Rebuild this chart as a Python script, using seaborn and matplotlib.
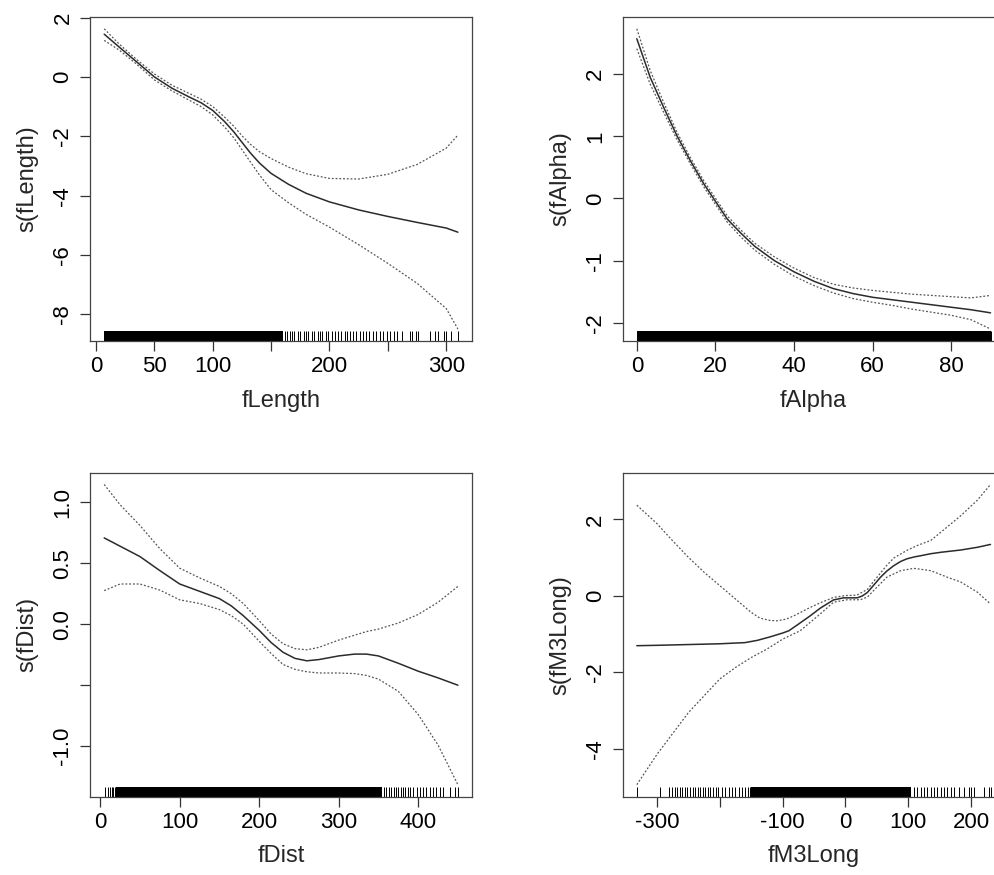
import matplotlib
matplotlib.use("Agg")
import matplotlib.pyplot as plt
import seaborn as sns
import numpy as np

# ---- fLength smooth ----
length_x = [7, 20, 35, 50, 65, 80, 90, 100, 110, 118, 125, 132, 140, 150, 165, 180, 200, 225, 250, 275, 300, 310]
length_fit = [1.44, 1.0, 0.5, 0.0, -0.38, -0.68, -0.87, -1.13, -1.50, -1.85, -2.20, -2.55, -2.90, -3.25, -3.62, -3.92, -4.21, -4.48, -4.70, -4.90, -5.09, -5.23]
length_up = [1.62, 1.10, 0.58, 0.10, -0.28, -0.56, -0.75, -1.0, -1.35, -1.66, -1.98, -2.26, -2.52, -2.75, -3.04, -3.26, -3.42, -3.44, -3.28, -2.95, -2.40, -1.96]
length_lo = [1.23, 0.90, 0.42, -0.10, -0.47, -0.79, -1.0, -1.28, -1.68, -2.05, -2.45, -2.85, -3.30, -3.80, -4.24, -4.63, -5.06, -5.65, -6.28, -6.95, -7.80, -8.49]
length_band = (7, 160)
length_rug = [162, 164, 166, 168, 170, 173, 175, 178, 180, 182, 185, 187, 190, 192, 194, 197, 199, 202, 205,
              207, 210, 213, 215, 218, 220, 223, 226, 229, 231, 234, 237, 240, 243,
              246, 249, 252, 255, 258, 262, 269, 271, 274, 276, 286, 290, 293, 298, 300, 304, 310]

# ---- fAlpha smooth ----
alpha_x = [0, 3.4, 6.8, 10.2, 13.6, 17, 23, 26.5, 30, 35, 40, 45, 50, 55, 60, 65, 70, 80, 85, 90]
alpha_fit = [2.57, 1.95, 1.47, 1.01, 0.61, 0.24, -0.33, -0.56, -0.77, -1.0, -1.18, -1.33, -1.45, -1.53, -1.59, -1.63, -1.67, -1.75, -1.79, -1.84]
alpha_up = [2.73, 2.06, 1.55, 1.07, 0.66, 0.29, -0.28, -0.51, -0.72, -0.94, -1.12, -1.27, -1.38, -1.44, -1.48, -1.51, -1.54, -1.58, -1.60, -1.56]
alpha_lo = [2.41, 1.84, 1.39, 0.95, 0.56, 0.19, -0.38, -0.62, -0.83, -1.06, -1.25, -1.40, -1.52, -1.61, -1.67, -1.72, -1.78, -1.88, -1.95, -2.10]
alpha_band = (0, 90)
alpha_rug = [90]

# ---- fDist smooth ----
dist_x = [5, 25, 50, 75, 100, 125, 150, 165, 180, 200, 215, 230, 245, 260, 275, 300, 320, 335, 350, 375, 400, 425, 450]
dist_fit = [0.708, 0.64, 0.555, 0.44, 0.33, 0.27, 0.21, 0.15, 0.07, -0.05, -0.15, -0.23, -0.28, -0.30, -0.29, -0.26, -0.245, -0.245, -0.26, -0.32, -0.385, -0.44, -0.50]
dist_up = [1.146, 0.98, 0.81, 0.62, 0.46, 0.38, 0.31, 0.25, 0.17, 0.03, -0.08, -0.16, -0.20, -0.21, -0.19, -0.13, -0.09, -0.06, -0.04, 0.01, 0.08, 0.18, 0.31]
dist_lo = [0.276, 0.33, 0.33, 0.28, 0.20, 0.17, 0.12, 0.07, 0.0, -0.14, -0.24, -0.33, -0.37, -0.39, -0.40, -0.40, -0.405, -0.42, -0.45, -0.55, -0.74, -0.99, -1.316]
dist_band = (20, 355)
dist_rug = [6.3, 9.2, 11.7, 14.7, 16.7, 18.8,
            357, 360, 363, 366, 369, 372, 375, 378, 381, 384, 387, 390, 393,
            398, 402, 406, 410, 415, 419, 423, 427, 431, 440, 446, 450]

# ---- fM3Long smooth ----
m3_x = [-332, -300, -250, -200, -160, -140, -120, -100, -90, -75, -56, -40, -19, -3, 10, 19, 27, 35, 45, 56, 66, 77, 88, 98, 110, 120, 135, 152, 184, 210, 231]
m3_fit = [-1.30, -1.29, -1.27, -1.25, -1.22, -1.16, -1.07, -0.97, -0.91, -0.74, -0.52, -0.32, -0.105, -0.05, -0.05, -0.05, 0.0, 0.09, 0.28, 0.49, 0.65, 0.79, 0.90, 0.97, 1.02, 1.05, 1.10, 1.14, 1.20, 1.27, 1.345]
m3_up_x = [-332, -300, -275, -250, -225, -200, -175, -150, -136, -120, -109, -95, -82, -56, -40, -19, 0, 18, 35, 45, 56, 66, 77, 98, 115, 136, 162, 184, 210, 231]
m3_up = [2.37, 1.89, 1.44, 1.01, 0.62, 0.27, -0.08, -0.43, -0.58, -0.64, -0.65, -0.61, -0.52, -0.30, -0.18, -0.04, 0.01, 0.02, 0.17, 0.38, 0.60, 0.80, 0.99, 1.19, 1.32, 1.45, 1.80, 2.10, 2.50, 2.91]
m3_lo_x = [-332, -300, -250, -200, -175, -150, -125, -100, -72, -40, -19, 3, 24, 35, 45, 66, 88, 109, 136, 162, 184, 210, 231]
m3_lo = [-4.93, -4.14, -3.05, -2.17, -1.87, -1.61, -1.39, -1.13, -0.91, -0.47, -0.165, -0.10, -0.10, -0.03, 0.14, 0.49, 0.66, 0.72, 0.66, 0.49, 0.36, 0.10, -0.21]
m3_band = (-150, 104)
m3_rug = [-332, -295, -281, -276, -272, -268, -264, -260, -256, -252, -247, -243, -239, -235, -231, -227,
          -223, -219, -215, -210, -206, -202, -197, -191, -186, -180, -175, -170, -164, -159, -155, -152,
          109, 114, 120, 125, 130, 136, 141, 146, 152, 157, 162, 168, 173, 181, 189, 197, 200, 205, 221, 229, 231]

# ---- axis ticks ----
length_xticks = [0, 50, 100, 150, 200, 250, 300]
length_xlabels = ['0', '50', '100', '', '200', '', '300']
length_yticks = [2, 0, -2, -4, -6, -8]
alpha_xticks = [0, 20, 40, 60, 80]
alpha_yticks = [2, 1, 0, -1, -2]
dist_xticks = [0, 100, 200, 300, 400]
dist_yticks = [1.0, 0.5, 0.0, -0.5, -1.0]
dist_ylabels = ['1.0', '0.5', '0.0', '', '-1.0']
m3_xticks = [-300, -200, -100, 0, 100, 200]
m3_xlabels = ['-300', '', '-100', '0', '100', '200']
m3_yticks = [2, 0, -2, -4]

sns.set_style("ticks")
plt.rcParams['font.family'] = ['Liberation Sans', 'DejaVu Sans']
plt.rcParams['axes.unicode_minus'] = False

fig = plt.figure(figsize=(9.95, 8.75), dpi=100)
W, H = 0.3839, 0.3705
positions = [(0.0905, 0.6103), (0.6258, 0.6103), (0.0905, 0.0895), (0.6258, 0.0895)]


def r_range(vals):
    lo, hi = min(vals), max(vals)
    pad = 0.04 * (hi - lo)
    return lo - pad, hi + pad


def gam_panel(ax, x, fit, up, lo, band, rug, name, xticks, yticks,
              xlabels=None, ylabels=None, up_x=None, lo_x=None):
    up_x = x if up_x is None else up_x
    lo_x = x if lo_x is None else lo_x
    sns.lineplot(x=x, y=fit, ax=ax, color='#2b2b2b', linewidth=1.1, sort=False)
    sns.lineplot(x=up_x, y=up, ax=ax, color='#555555', linewidth=0.9, sort=False,
                 linestyle=(0, (1.5, 1.5)))
    sns.lineplot(x=lo_x, y=lo, ax=ax, color='#555555', linewidth=0.9, sort=False,
                 linestyle=(0, (1.5, 1.5)))
    # rug: dense stretch as a filled strip, sparse observations as ticks
    ax.fill_between(list(band), 0, 0.03, transform=ax.get_xaxis_transform(),
                    color='black', linewidth=0)
    sns.rugplot(x=rug, ax=ax, height=0.03, color='black', linewidth=0.7)

    ax.set_xlim(*r_range(list(x) + list(up_x) + list(lo_x)))
    ax.set_ylim(*r_range(list(up) + list(lo)))
    ax.set_xticks(xticks)
    ax.set_xticklabels(xlabels if xlabels else [str(t) for t in xticks])
    ax.set_yticks(yticks)
    ax.set_yticklabels(ylabels if ylabels else [str(t) for t in yticks],
                       rotation=90, va='center')
    ax.set_xlabel(name, fontsize=17, labelpad=9)
    ax.set_ylabel(f's({name})', fontsize=17, labelpad=10)
    ax.tick_params(axis='both', direction='out', length=7.5, width=0.9,
                   color='#333333', labelsize=16, labelcolor='black')
    ax.tick_params(axis='x', pad=3.5)
    ax.tick_params(axis='y', pad=4.5)
    for sp in ax.spines.values():
        sp.set_color('#444444')
        sp.set_linewidth(0.9)
        sp.set_visible(True)


ax1 = fig.add_axes([positions[0][0], positions[0][1], W, H])
gam_panel(ax1, length_x, length_fit, length_up, length_lo, length_band, length_rug,
          'fLength', length_xticks, length_yticks, xlabels=length_xlabels)

ax2 = fig.add_axes([positions[1][0], positions[1][1], W, H])
gam_panel(ax2, alpha_x, alpha_fit, alpha_up, alpha_lo, alpha_band, alpha_rug,
          'fAlpha', alpha_xticks, alpha_yticks)

ax3 = fig.add_axes([positions[2][0], positions[2][1], W, H])
gam_panel(ax3, dist_x, dist_fit, dist_up, dist_lo, dist_band, dist_rug,
          'fDist', dist_xticks, dist_yticks, ylabels=dist_ylabels)

ax4 = fig.add_axes([positions[3][0], positions[3][1], W, H])
gam_panel(ax4, m3_x, m3_fit, m3_up, m3_lo, m3_band, m3_rug,
          'fM3Long', m3_xticks, m3_yticks, xlabels=m3_xlabels,
          up_x=m3_up_x, lo_x=m3_lo_x)

fig.savefig('out.png', dpi=100)
